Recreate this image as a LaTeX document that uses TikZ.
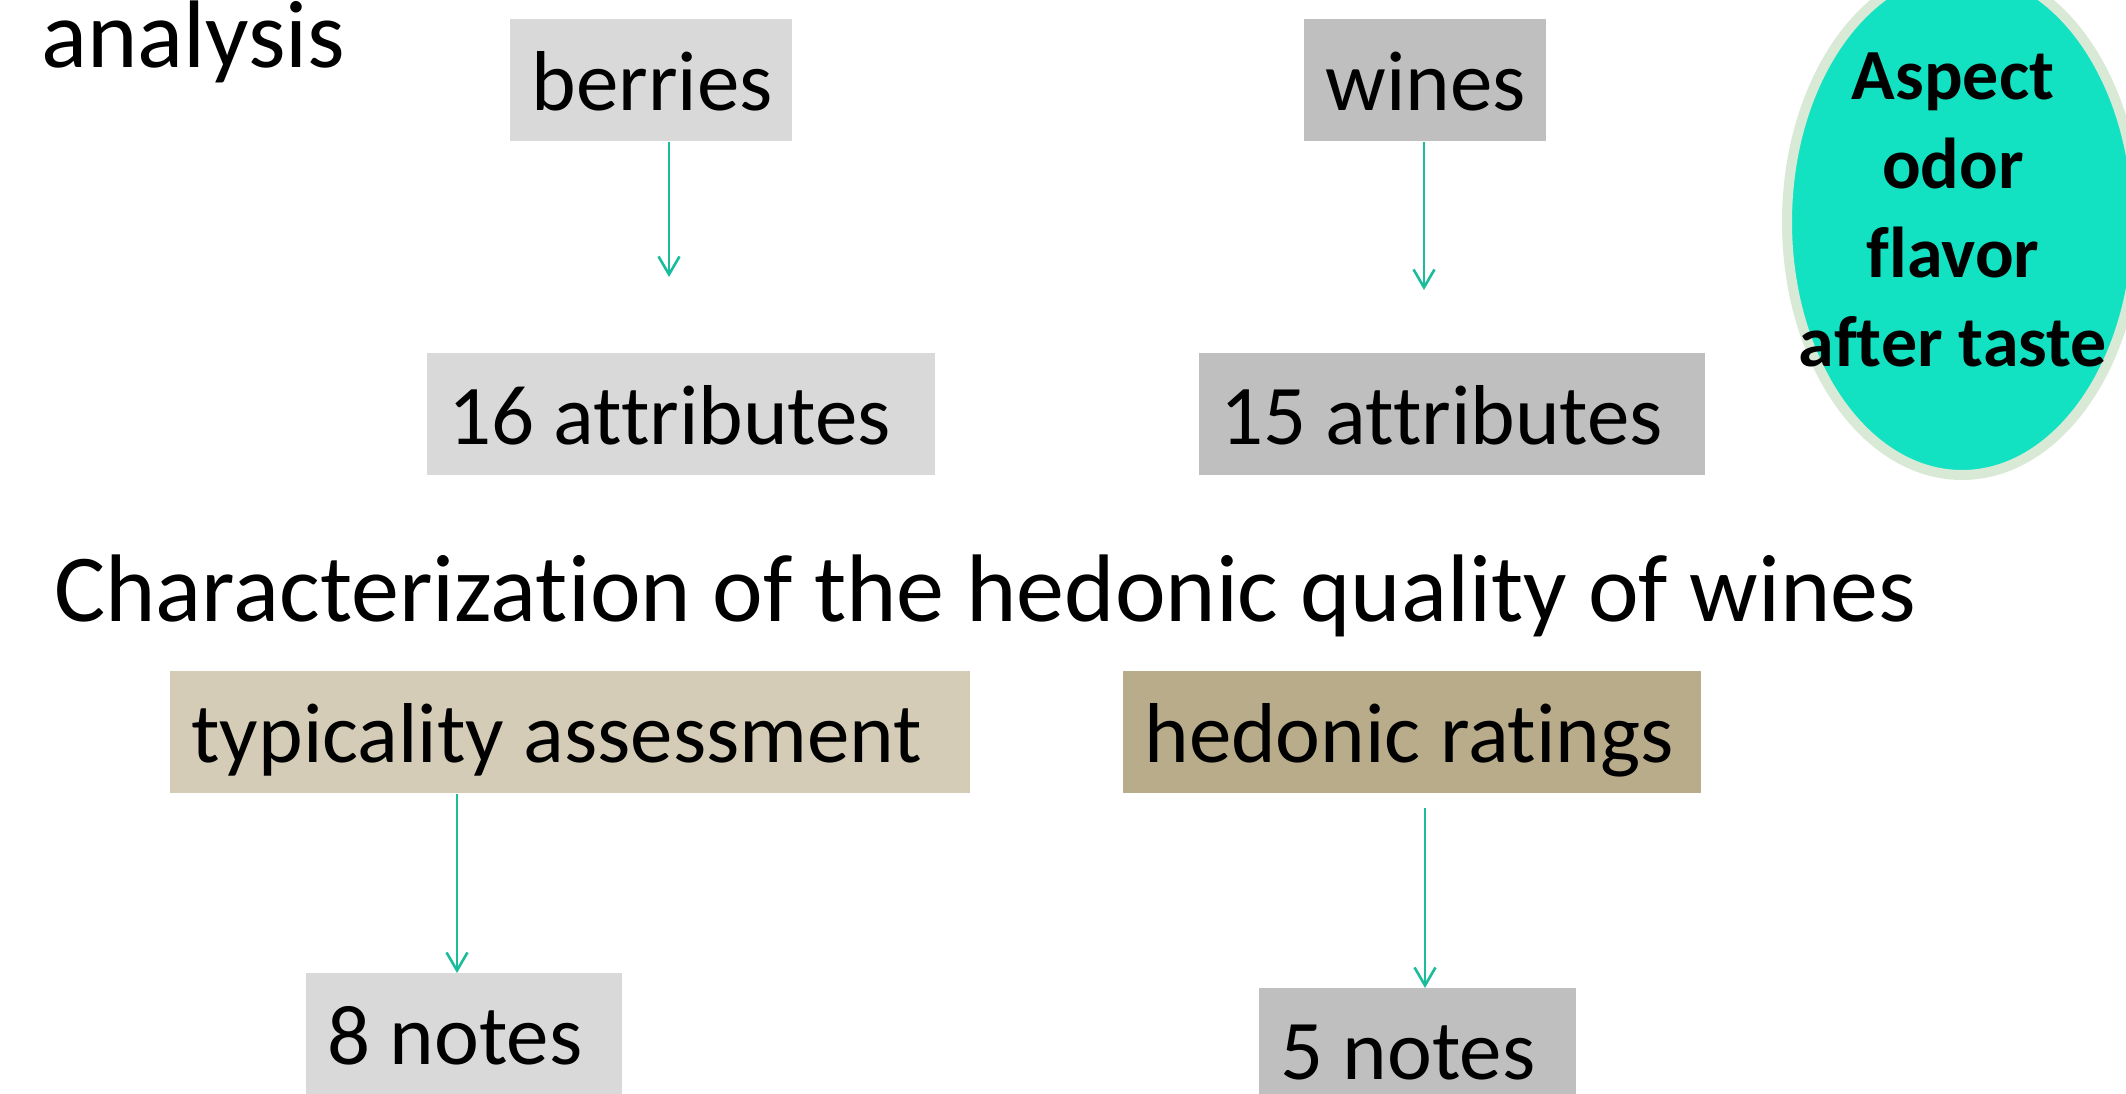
\documentclass[tikz,border=0pt]{standalone}
\usepackage{fontspec}
\setmainfont{Carlito}[Ligatures=CommonOff]
\usepackage{tikz}
\usetikzlibrary{arrows.meta,shapes.geometric}
\definecolor{arrowteal}{HTML}{1ABC9C}
\definecolor{boxlight}{HTML}{D9D9D9}
\definecolor{boxmid}{HTML}{BFBFBF}
\definecolor{tanlight}{HTML}{D4CCB6}
\definecolor{tandark}{HTML}{B9AC8A}
\definecolor{aspectfill}{HTML}{13E2C2}
\definecolor{aspectrim}{HTML}{D8EAD5}

\begin{document}
\begin{tikzpicture}[x=0.5pt,y=-0.5pt,
  cell/.style={rectangle,anchor=north west,inner xsep=10.5pt,inner ysep=0pt,minimum height=61pt,align=flush left,text height=36pt,text depth=6pt,font=\fontsize{42.5}{51}\selectfont},
  heading/.style={anchor=base west,inner sep=0pt,font=\fontsize{48}{57}\selectfont},
  arr/.style={-{Straight Barb[length=9pt,width=10.5pt]},line width=1.3pt,draw=arrowteal}]
\useasboundingbox (0,0) rectangle (2126,1093);
\node[heading] (analysis) at (41,67) {analysis};
\node[cell,fill=boxlight,text width=120pt] (berries) at (510,19) {berries};
\node[cell,fill=boxmid,text width=100pt] (wines) at (1304,19) {wines};
\node[cell,fill=boxlight,text width=233pt] (attr16) at (427,353) {16 attributes};
\node[cell,fill=boxmid,text width=232pt] (attr15) at (1199,353) {15 attributes};
\node[ellipse,draw=aspectrim,line width=5pt,fill=aspectfill,minimum width=175pt,minimum height=253pt,inner sep=0pt] (blob) at (1962,222) {};
\node[align=center,inner sep=0pt,font=\bfseries\fontsize{36}{44.5}\selectfont] (aspect) at (1953,210) {Aspect\\odor\\flavor\\after taste};
\node[heading] (title) at (54,621) {Characterization of the hedonic quality of wines};
\node[cell,fill=tanlight,text width=379pt] (typ) at (170,671) {typicality assessment};
\node[cell,fill=tandark,text width=268pt] (hed) at (1123,671) {hedonic ratings};
\node[cell,fill=boxlight,text width=137pt] (notes8) at (306,973) {8 notes};
\node[cell,fill=boxmid,text width=137.5pt] (notes5) at (1259,988) {5 notes};
\coordinate (bTip) at (669,277);
\coordinate (wTip) at (1424,290);
\coordinate (tTip) at (457,973);
\coordinate (hTip) at (1425,988);
\draw[arr] (berries.south -| bTip) -- (bTip);
\draw[arr] (wines.south -| wTip) -- (wTip);
\draw[arr] (typ.south -| tTip) -- (tTip);
\draw[arr,shorten <=7pt] (hed.south -| hTip) -- (hTip);
\end{tikzpicture}
\end{document}
